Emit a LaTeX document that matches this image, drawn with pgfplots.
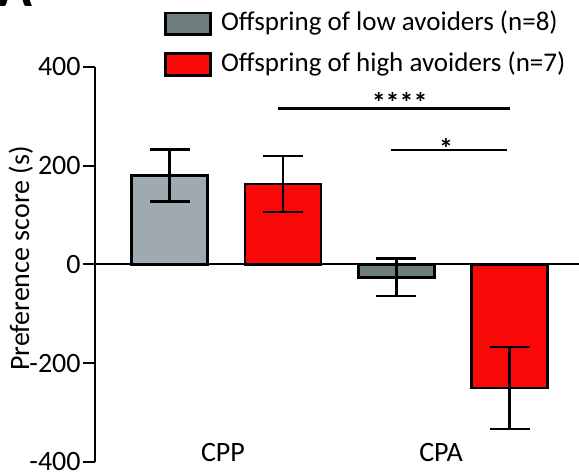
\documentclass[border=0pt]{standalone}
\usepackage{pgfplots}
\pgfplotsset{compat=1.18}
\usepackage{fontspec}
\setmainfont{Carlito}
\definecolor{lowlight}{RGB}{158,170,175}
\definecolor{lowdark}{RGB}{110,125,126}
\definecolor{highred}{RGB}{250,8,8}
\begin{document}
\begin{tikzpicture}[x=1pt,y=1pt]
\useasboundingbox (0,0) rectangle (289.5,237.5);
\node[anchor=base west, inner sep=0pt, font=\fontsize{28}{32}\selectfont\bfseries] at (-1,234) {A};
\begin{axis}[
  at={(47.5pt,6.5pt)}, anchor=south west,
  scale only axis, width=242pt, height=197.5pt,
  xmin=0.3405, xmax=4.613, ymin=-400, ymax=400,
  axis lines*=left,
  axis line style={-, line width=1pt, black},
  x axis line style={draw=none},
  xtick={1.47,3.395}, xticklabels={CPP,CPA},
  xtick style={draw=none},
  xticklabel style={anchor=base, yshift=6pt},
  ytick={-400,-200,0,200,400},
  yticklabels={-400,-200,0,200,400},
  ytick style={line width=1pt, black},
  tick align=outside, major tick length=6pt,
  yticklabel style={inner sep=1pt},
  ticklabel style={font=\fontsize{14}{16}\selectfont},
  ylabel={Preference score (s)},
  ylabel style={at={(axis description cs:-0.153,0.515)}, anchor=center, font=\fontsize{14}{16}\selectfont},
  legend style={at={(axis description cs:0.1426,1.143)}, anchor=north west, draw=none, fill=none,
    inner sep=0pt, row sep=8pt, column sep=4.5pt, font=\fontsize{13.5}{16}\selectfont,
    nodes={inner sep=0pt}},
  legend cell align=left,
  legend image code/.code={\draw[#1,/tikz/.cd,line width=1.3pt] (0pt,-6.1pt) rectangle (22.5pt,4.7pt);},
  clip=false,
]
\addplot[ybar, bar width=0.671, bar shift=0pt, fill=lowlight, draw=black, line width=1.3pt, forget plot,
  error bars/.cd, y dir=both, y explicit,
  error bar style={line width=1.3pt, black},
  error mark options={rotate=90, line width=1.3pt, mark size=10pt, black}]
  coordinates {(1,180) +- (0,53)};
\addplot[ybar, bar width=0.671, bar shift=0pt, fill=lowdark, draw=black, line width=1.3pt,
  error bars/.cd, y dir=both, y explicit,
  error bar style={line width=1.3pt, black},
  error mark options={rotate=90, line width=1.3pt, mark size=10pt, black}]
  coordinates {(3,-26) +- (0,38)};
\addlegendentry{Offspring of low avoiders (n=8)}
\addplot[ybar, bar width=0.671, bar shift=0pt, fill=highred, draw=black, line width=1.3pt,
  error bars/.cd, y dir=both, y explicit,
  error bar style={line width=1.3pt, black},
  error mark options={rotate=90, line width=1.3pt, mark size=10pt, black}]
  coordinates {(2,163) +- (0,57) (4,-250) +- (0,83)};
\addlegendentry{Offspring of high avoiders (n=7)}
\draw[line width=1pt, black] (rel axis cs:0,0.5) -- (rel axis cs:1,0.5);
\draw[line width=1.3pt] (axis cs:1.96,316) -- (axis cs:4.0,316);
\node[anchor=base, inner sep=0pt, font=\fontsize{14}{16}\selectfont\bfseries] at (axis cs:3.03,308) {****};
\draw[line width=1.3pt] (axis cs:2.957,232) -- (axis cs:3.98,232);
\node[anchor=base, inner sep=0pt, font=\fontsize{14}{16}\selectfont\bfseries] at (axis cs:3.44,214) {*};
\end{axis}
\end{tikzpicture}
\end{document}
